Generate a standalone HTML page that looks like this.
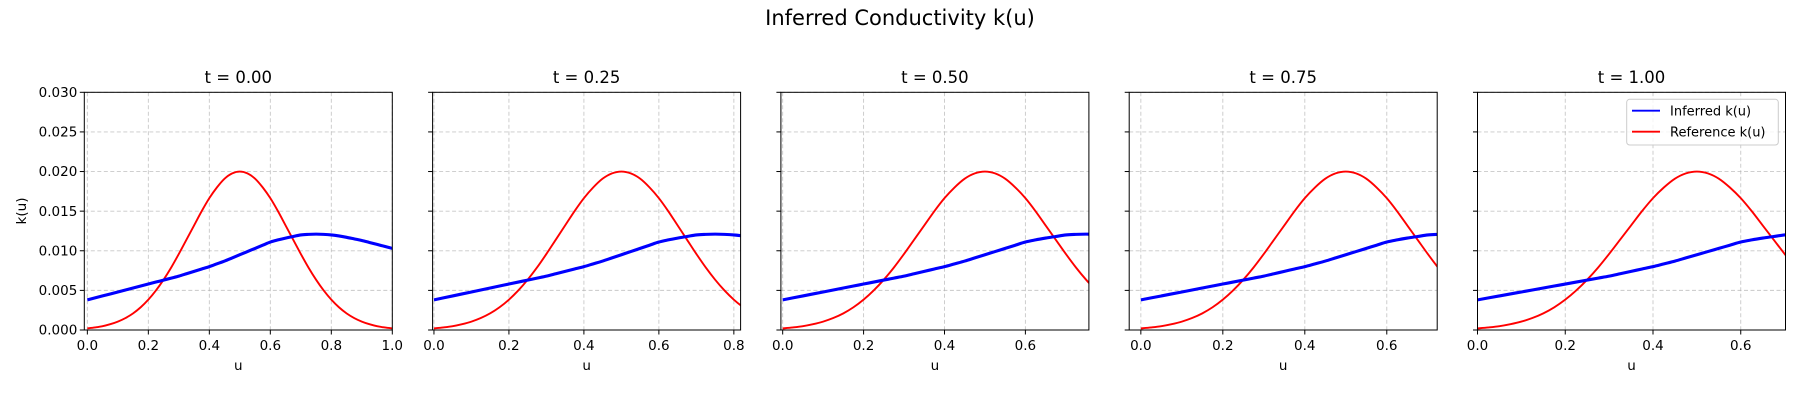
<!DOCTYPE html>
<html><head><meta charset="utf-8">
<style>
html,body{margin:0;padding:0;background:#fff;}
svg{display:block;font-family:"DejaVu Sans","Liberation Sans",sans-serif;}
</style></head>
<body>
<svg id="chart" width="1800" height="400" viewBox="0 0 1800 400" xmlns="http://www.w3.org/2000/svg">
<rect width="1800" height="400" fill="#fff"/>
<text x="900" y="25" font-size="21" text-anchor="middle" fill="#000">Inferred Conductivity k(u)</text>
<text transform="translate(26,211) rotate(-90)" font-size="13.5" text-anchor="middle" fill="#000">k(u)</text>
<g id="panels"></g>
</svg>
<script>
const panelTitles = ["t = 0.00","t = 0.25","t = 0.50","t = 0.75","t = 1.00"];
const xMins = [-0.01, -0.0036, -0.0044, -0.0284, 0.0];
const xMaxs = [1.0, 0.818, 0.757, 0.723, 0.702];
const uValues = [0,0.025,0.05,0.075,0.1,0.125,0.15,0.175,0.2,0.225,0.25,0.275,0.3,0.325,0.35,0.375,0.4,0.425,0.45,0.475,0.5,0.525,0.55,0.575,0.6,0.625,0.65,0.675,0.7,0.725,0.75,0.775,0.8,0.825,0.85,0.875,0.9,0.925,0.95,0.975,1.0];
const inferredK = [0.0038,0.00405,0.0043,0.00455,0.0048,0.00505,0.0053,0.00555,0.0058,0.00605,0.0063,0.00655,0.0068,0.0071,0.0074,0.0077,0.0080,0.00835,0.0087,0.0091,0.0095,0.0099,0.0103,0.0107,0.0111,0.01137,0.0116,0.0118,0.0120,0.01207,0.0121,0.01207,0.0120,0.01187,0.0117,0.0115,0.0113,0.01105,0.0108,0.01055,0.0103];
const referenceK = [0.0002,0.00032,0.00048,0.00073,0.00106,0.00151,0.0021,0.00287,0.00383,0.00499,0.00635,0.00789,0.0096,0.0114,0.0132,0.0150,0.01664,0.0180,0.0191,0.01977,0.0200,0.01977,0.0191,0.0180,0.01664,0.0150,0.0132,0.0114,0.0096,0.00789,0.00635,0.00499,0.00383,0.00287,0.0021,0.00151,0.00106,0.00073,0.00048,0.00032,0.0002];
const xTicks = [0,0.2,0.4,0.6,0.8,1.0];
const xTickLabels = ["0.0","0.2","0.4","0.6","0.8","1.0"];
const yTicks = [0,0.005,0.01,0.015,0.02,0.025,0.03];
const yTickLabels = ["0.000","0.005","0.010","0.015","0.020","0.025","0.030"];
const yMin = 0, yMax = 0.03;

const NS = "http://www.w3.org/2000/svg";
const root = document.getElementById("panels");
const TOP = 92.3, BOTTOM = 330, W = 308, LEFT0 = 84.3, PITCH = 348.3;
function mk(tag, attrs, parent){const e=document.createElementNS(NS,tag);for(const k in attrs)e.setAttribute(k,attrs[k]);parent.appendChild(e);return e;}
function smoothPath(p){
  let d="M"+p[0][0].toFixed(2)+","+p[0][1].toFixed(2);
  for(let k=0;k<p.length-1;k++){
    const p0=p[Math.max(0,k-1)],p1=p[k],p2=p[k+1],p3=p[Math.min(p.length-1,k+2)];
    const c1x=p1[0]+(p2[0]-p0[0])/6,c1y=p1[1]+(p2[1]-p0[1])/6;
    const c2x=p2[0]-(p3[0]-p1[0])/6,c2y=p2[1]-(p3[1]-p1[1])/6;
    d+=" C"+c1x.toFixed(2)+","+c1y.toFixed(2)+" "+c2x.toFixed(2)+","+c2y.toFixed(2)+" "+p2[0].toFixed(2)+","+p2[1].toFixed(2);
  }
  return d;
}

panelTitles.forEach((title, i) => {
  const L = LEFT0 + i*PITCH, R = L + W;
  const xs = v => L + (v - xMins[i])/(xMaxs[i]-xMins[i])*W;
  const ys = v => BOTTOM - (v - yMin)/(yMax-yMin)*(BOTTOM-TOP);
  const g = mk("g", {}, root);
  
  
  const clipId = "clip"+i;
  const cp = mk("clipPath",{id:clipId},g);
  mk("rect",{x:L,y:TOP,width:W,height:BOTTOM-TOP},cp);
  yTicks.forEach((t,j)=>{
    const y=ys(t);
    const gl=mk("line",{x1:L,x2:R,y1:y,y2:y,stroke:"#b0b0b0","stroke-width":0.9,"stroke-dasharray":"4,2.5","stroke-opacity":0.7},g);
    
    
    const tk=mk("line",{x1:L-4.5,x2:L,y1:y,y2:y,stroke:"#000","stroke-width":1},g);
    
    
    if(i===0){
      const tl=mk("text",{x:L-7,y:y+4.6,"font-size":13.5,"text-anchor":"end",fill:"#000"},g);
      tl.textContent=yTickLabels[j];
      
      
    }
  });
  xTicks.forEach((t,j)=>{
    if(t < xMins[i]-1e-9 || t > xMaxs[i]+1e-9) return;
    const x=xs(t);
    const gl=mk("line",{x1:x,x2:x,y1:TOP,y2:BOTTOM,stroke:"#b0b0b0","stroke-width":0.9,"stroke-dasharray":"4,2.5","stroke-opacity":0.7},g);
    
    
    const tk=mk("line",{x1:x,x2:x,y1:BOTTOM,y2:BOTTOM+4.5,stroke:"#000","stroke-width":1},g);
    
    
    const tl=mk("text",{x:x,y:350,"font-size":13.5,"text-anchor":"middle",fill:"#000"},g);
    tl.textContent=xTickLabels[j];
    
    
  });
  const ptsR = uValues.map((u,k)=>[xs(u),ys(referenceK[k])]);
  const ptsB = uValues.map((u,k)=>[xs(u),ys(inferredK[k])]);
  const red=mk("path",{d:smoothPath(ptsR),fill:"none",stroke:"#ff0000","stroke-width":1.9,"stroke-linejoin":"round","clip-path":"url(#"+clipId+")"},g);
  
  
  const blue=mk("path",{d:smoothPath(ptsB),fill:"none",stroke:"#0000ff","stroke-width":3.1,"stroke-linejoin":"round","clip-path":"url(#"+clipId+")"},g);
  
  
  const fr=mk("rect",{x:L,y:TOP,width:W,height:BOTTOM-TOP,fill:"none",stroke:"#000","stroke-width":1},g);
  
  
  const tt=mk("text",{x:L+W/2,y:83,"font-size":16.5,"text-anchor":"middle",fill:"#000"},g);
  tt.textContent=title;
  
  
  const xl=mk("text",{x:L+W/2,y:370,"font-size":13.5,"text-anchor":"middle",fill:"#000"},g);
  xl.textContent="u";
  
  
  if(i===4){
    const lg=mk("g",{},g);
    
    
    mk("rect",{x:1626.7,y:99.3,width:151.6,height:45.7,rx:3,fill:"#fff","fill-opacity":0.8,stroke:"#cccccc","stroke-width":1},lg);
    const e1=mk("g",{},lg);
    
    
    mk("line",{x1:1632,x2:1660,y1:110.7,y2:110.7,stroke:"#0000ff","stroke-width":1.9},e1);
    const t1=mk("text",{x:1670,y:115.3,"font-size":13,fill:"#000"},e1);t1.textContent="Inferred k(u)";
    const e2=mk("g",{},lg);
    
    
    mk("line",{x1:1632,x2:1660,y1:131.7,y2:131.7,stroke:"#ff0000","stroke-width":1.9},e2);
    const t2=mk("text",{x:1670,y:136.3,"font-size":13,fill:"#000"},e2);t2.textContent="Reference k(u)";
  }
});
</script>
</body></html>
